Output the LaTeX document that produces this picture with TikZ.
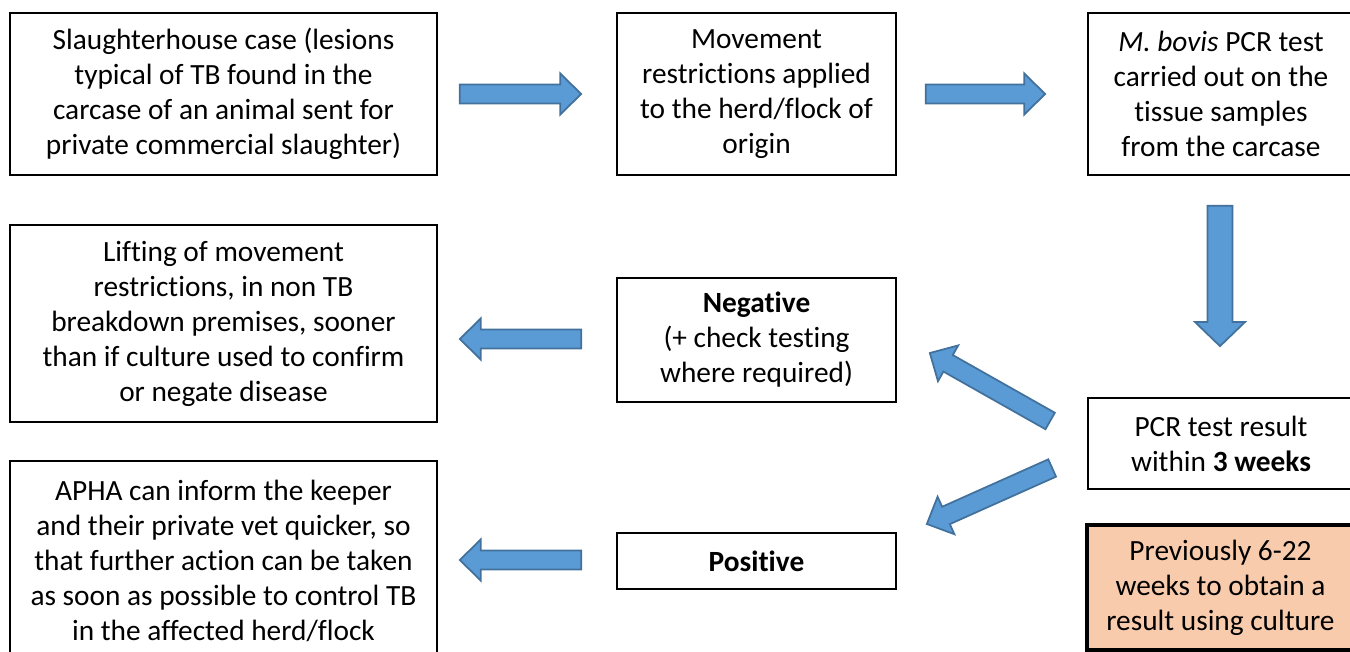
\documentclass[tikz,border=0pt]{standalone}
\usepackage{fontspec}
\setmainfont[RawFeature={-liga;-clig;-rlig;-calt}]{Carlito}
\usetikzlibrary{calc}

\definecolor{arrowblue}{HTML}{5B9BD5}
\definecolor{arrowedge}{HTML}{41719C}
\definecolor{notefill}{HTML}{F8CBAD}

\newcommand\boxfont{\fontsize{16.7pt}{19.9pt}\selectfont}
\newcommand\shafthalf{5.4pt}
\newcommand\headhalf{11.7pt}
\newcommand\headlen{11.9pt}

\tikzset{
  stagebox/.style={draw, line width=1pt, align=center, inner sep=0pt, font=\boxfont},
  notebox/.style={stagebox, fill=notefill, line width=2pt},
  blockarrow/.style={draw=arrowedge, fill=arrowblue, line width=1pt, line join=miter,
    to path={let \p1=(\tikztostart), \p2=(\tikztotarget),
      \n1={atan2(\y2-\y1,\x2-\x1)}, \n2={veclen(\x2-\x1,\y2-\y1)-\headlen} in
      ($(\p1)+(\n1+90:\shafthalf)$) -- ($(\p1)+(\n1:\n2)+(\n1+90:\shafthalf)$)
      -- ($(\p1)+(\n1:\n2)+(\n1+90:\headhalf)$) -- (\p2)
      -- ($(\p1)+(\n1:\n2)+(\n1-90:\headhalf)$) -- ($(\p1)+(\n1:\n2)+(\n1-90:\shafthalf)$)
      -- ($(\p1)+(\n1-90:\shafthalf)$) -- cycle}},
  bigblockarrow/.style={blockarrow,
    /utils/exec={\def\shafthalf{7.1pt}\def\headhalf{14.2pt}\def\headlen{13.7pt}}},
}

\begin{document}
\begin{tikzpicture}[x=0.02cm, y=-0.02cm]
\clip (0,0) rectangle (1350,652);

% top row
\node[stagebox, minimum width=8.54cm, minimum height=3.24cm] (slaughter) at (223.5,94)
  {Slaughterhouse case (lesions\\typical of TB found in the\\carcase of an animal sent for\\private commercial slaughter)};
\node[stagebox, minimum width=5.58cm, minimum height=3.24cm] (movement) at (756.5,94)
  {Movement\\restrictions applied\\to the herd/flock of\\origin};
\node[stagebox, minimum width=5.32cm, minimum height=3.24cm] (pcrtest) at (1221,94)
  {\textit{M. bovis} PCR test\\carried out on the\\tissue samples\\from the carcase};

% middle row
\node[stagebox, minimum width=8.54cm, minimum height=3.94cm] (lifting) at (223.5,323.5)
  {Lifting of movement\\restrictions, in non TB\\breakdown premises, sooner\\than if culture used to confirm\\or negate disease};
\node[stagebox, minimum width=5.58cm, minimum height=2.48cm] (negative) at (756.5,340)
  {\textbf{Negative}\\(+ check testing\\where required)};
\node[stagebox, minimum width=5.32cm, minimum height=1.82cm] (pcrresult) at (1221,443.5)
  {PCR test result\\within \textbf{3 weeks}};

% bottom row
\node[stagebox, minimum width=8.54cm, minimum height=4cm] (apha) at (223.5,561)
  {APHA can inform the keeper\\and their private vet quicker, so\\that further action can be taken\\as soon as possible to control TB\\in the affected herd/flock};
\node[stagebox, minimum width=5.58cm, minimum height=1.12cm] (positive) at (756.5,561)
  {\textbf{Positive}};
\node[notebox, minimum width=5.34cm, minimum height=2.5cm, text depth=3pt] (previously) at (1220.5,587.5)
  {Previously 6-22\\weeks to obtain a\\result using culture};

% block arrows
\draw[blockarrow] ($(slaughter.east)+(22,0)$) to ($(movement.west)+(-35,0)$);
\draw[blockarrow] ($(movement.east)+(29,0)$) to ($(pcrtest.west)+(-42,0)$);
\draw[bigblockarrow] ($(pcrtest.south)+(-1,30)$) to ($(pcrresult.north)+(-1,-51)$);
\draw[blockarrow] ($(pcrresult.west)+(-37,-22.5)$) to ($(negative.east)+(33,13)$);
\draw[blockarrow] ($(pcrresult.west)+(-35,24.5)$) to ($(positive.east)+(30,-37)$);
\draw[blockarrow] ($(negative.west)+(-35,-1)$) to ($(lifting.east)+(22,15.5)$);
\draw[blockarrow] ($(positive.west)+(-35,-1)$) to ($(apha.east)+(22,-1)$);
\end{tikzpicture}
\end{document}
